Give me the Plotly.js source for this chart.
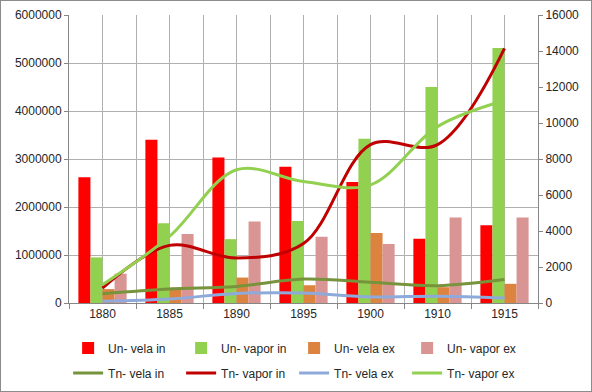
<!DOCTYPE html>
<html>
<head>
<meta charset="utf-8">
<script src="https://cdn.plot.ly/plotly-3.0.1.min.js"></script>
<style>
  html, body { margin: 0; padding: 0; background: #fff; }
  #frame { width: 592px; height: 392px; box-sizing: border-box; border: 1px solid #8c8c8c; overflow: hidden; }
  #chart { width: 590px; height: 390px; }
</style>
</head>
<body>
<div id="frame"><div id="chart"></div></div>
<script>
const years = ['1880', '1885', '1890', '1895', '1900', '1910', '1915'];

const unVelaIn  = [2620000, 3400000, 3030000, 2840000, 2520000, 1340000, 1620000];
const unVaporIn = [950000, 1660000, 1330000, 1710000, 3420000, 4500000, 5310000];
const unVelaEx  = [290000, 320000, 530000, 370000, 1460000, 330000, 400000];
const unVaporEx = [610000, 1440000, 1700000, 1380000, 1230000, 1780000, 1780000];

const tnVelaIn  = [520, 780, 920, 1330, 1150, 960, 1300];
const tnVaporIn = [830, 3200, 2500, 3300, 8800, 8800, 14150];
const tnVelaEx  = [100, 220, 530, 550, 340, 380, 280];
const tnVaporEx = [1020, 3700, 7400, 6750, 6560, 9800, 11250];

const font = { family: 'Liberation Sans, Arial, sans-serif', size: 12, color: '#262626' };

function bar(name, y, color) {
  return { type: 'bar', name: name, x: years, y: y, marker: { color: color, line: { width: 0 } },
           xaxis: 'x', yaxis: 'y', legend: 'legend', hoverinfo: 'skip' };
}
function line(name, y, color) {
  return { type: 'scatter', mode: 'lines', name: name, x: years, y: y,
           line: { color: color, width: 3, shape: 'spline', smoothing: 1 },
           xaxis: 'x2', yaxis: 'y2', legend: 'legend2', hoverinfo: 'skip' };
}

const data = [
  bar('Un- vela in', unVelaIn, '#ff0000'),
  bar('Un- vapor in', unVaporIn, '#92d050'),
  bar('Un- vela ex', unVelaEx, '#dc843f'),
  bar('Un- vapor ex', unVaporEx, '#d99594'),
  line('Tn- vela in', tnVelaIn, '#77933c'),
  line('Tn- vapor in', tnVaporIn, '#c00000'),
  line('Tn- vela ex', tnVelaEx, '#8eaadb'),
  line('Tn- vapor ex', tnVaporEx, '#92d050')
];

const legendBase = {
  orientation: 'h', x: 0.48, xanchor: 'center', yanchor: 'middle',
  entrywidth: 68, entrywidthmode: 'pixels', itemwidth: 30,
  font: font, traceorder: 'normal', bgcolor: 'rgba(0,0,0,0)'
};

const layout = {
  width: 590, height: 390,
  margin: { l: 68, r: 53, t: 14, b: 88, autoexpand: false },
  paper_bgcolor: '#ffffff', plot_bgcolor: '#ffffff',
  font: font,
  barmode: 'group', bargap: 0.28, bargroupgap: 0,
  showlegend: true,
  legend: Object.assign({}, legendBase, { y: -0.156 }),
  legend2: Object.assign({}, legendBase, { y: -0.243 }),
  xaxis: {
    type: 'category', categoryarray: years, range: [-0.5, 6.5],
    tickson: 'boundaries', ticks: 'outside', ticklen: 5, tickcolor: '#868686',
    showgrid: true, gridcolor: '#b0b0b0', gridwidth: 1,
    showline: true, linecolor: '#868686', linewidth: 1,
    tickfont: font, zeroline: false, fixedrange: true
  },
  xaxis2: {
    type: 'category', categoryarray: years, range: [-0.5, 6.5], overlaying: 'x',
    showgrid: true, gridcolor: '#b0b0b0', gridwidth: 1,
    showticklabels: false, ticks: '', showline: false, zeroline: false
  },
  yaxis: {
    range: [0, 6000000], dtick: 1000000, tickformat: 'd',
    ticks: 'outside', ticklen: 4, tickcolor: '#868686',
    showgrid: true, gridcolor: '#b0b0b0', gridwidth: 1,
    showline: true, linecolor: '#868686', linewidth: 1,
    zeroline: false, tickfont: font
  },
  yaxis2: {
    range: [0, 16000], dtick: 2000, tickformat: 'd', overlaying: 'y', side: 'right',
    ticks: 'outside', ticklen: 4, tickcolor: '#868686',
    showgrid: false, showline: true, linecolor: '#868686', linewidth: 1,
    zeroline: false, tickfont: font
  }
};

Plotly.newPlot('chart', data, layout, { staticPlot: true, displayModeBar: false });
</script>
</body>
</html>
